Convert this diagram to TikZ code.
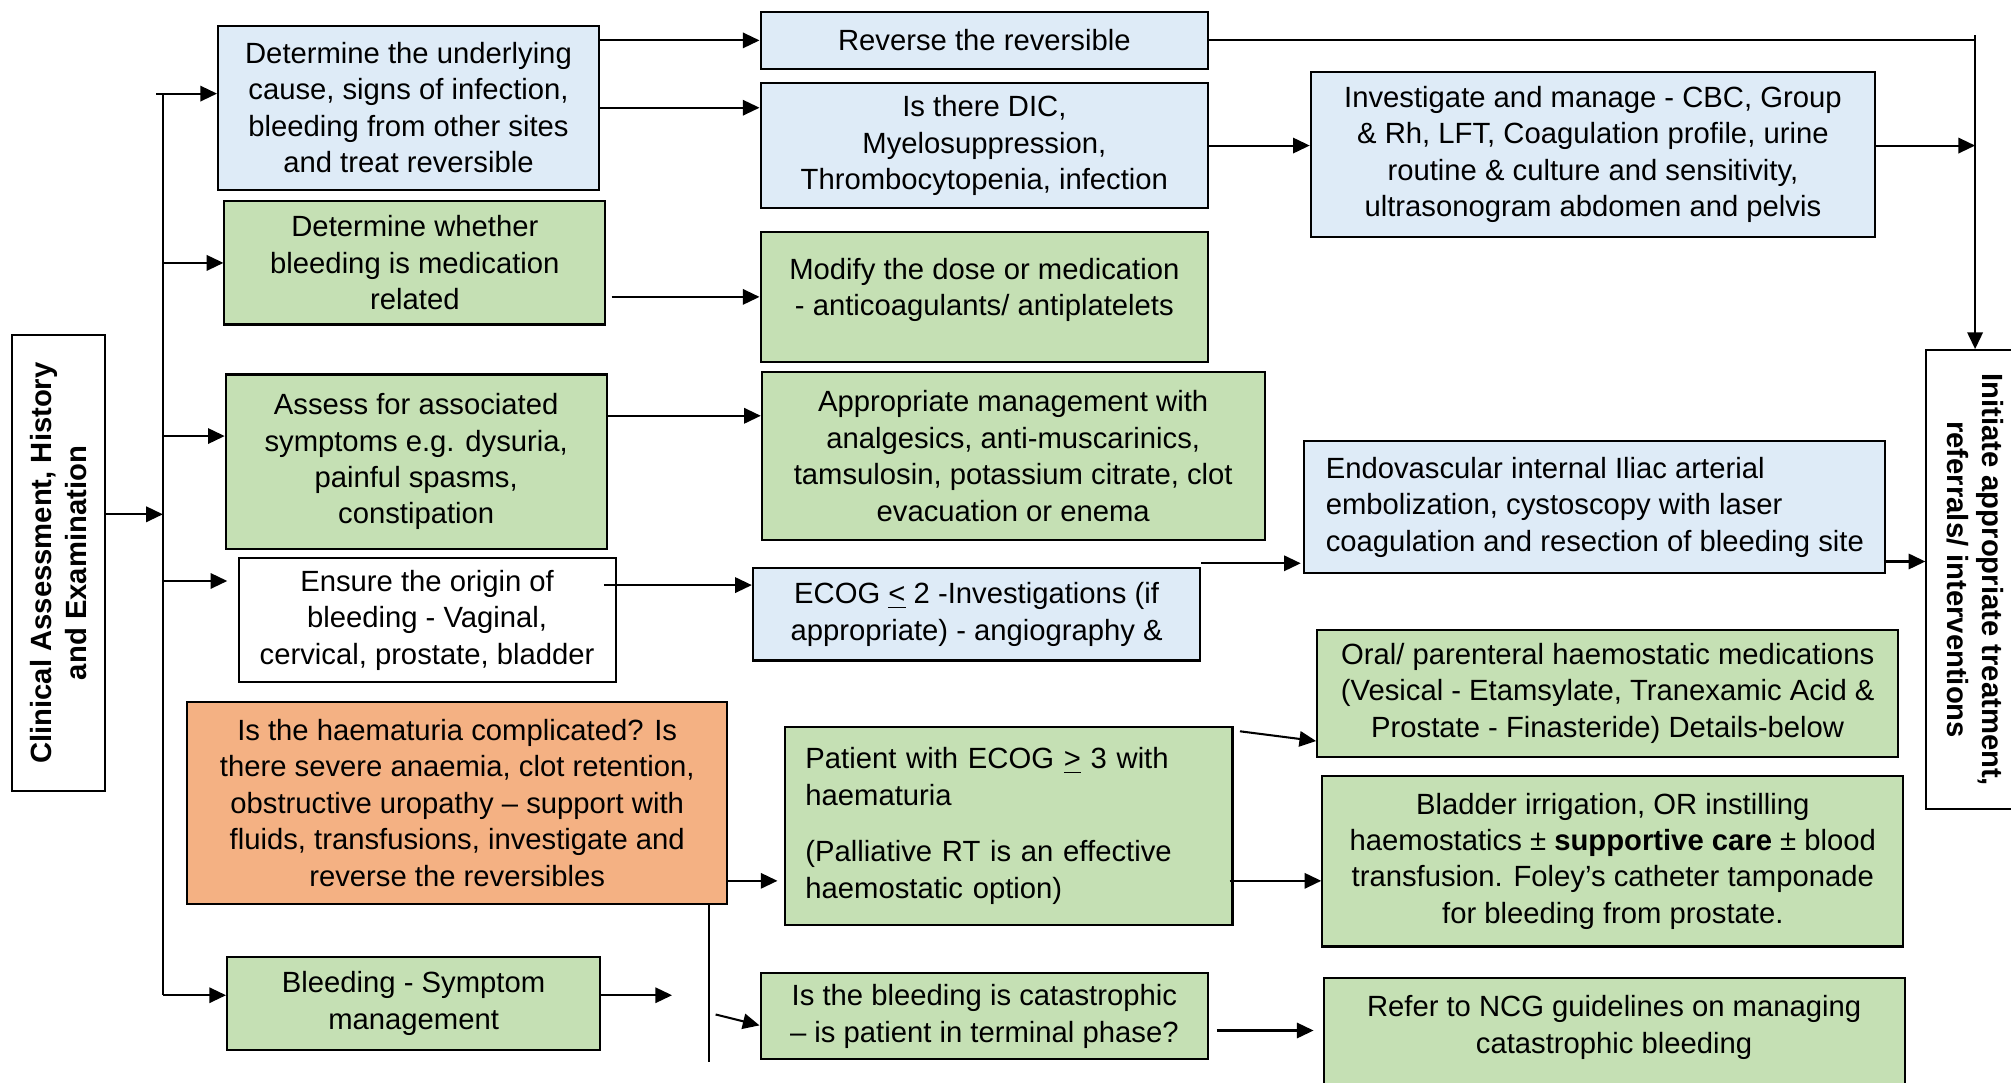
\documentclass[tikz,border=0pt]{standalone}
\usepackage{fontspec}
\setmainfont{Liberation Sans}
\usepackage{xcolor}
\definecolor{light-blue}{HTML}{DEEBF7}
\definecolor{pale-green}{HTML}{C5E0B4}
\definecolor{soft-orange}{HTML}{F4B183}
\usetikzlibrary{arrows.meta,calc}

\begin{document}
\begin{tikzpicture}[x=.5pt,y=-.5pt,>={Triangle[length=6.5pt,width=6pt]},line width=.8pt,
	box/.style={draw,align=center,inner sep=2pt,font=\fontsize{11.4}{14.2}\selectfont},
	headbox/.style={box,font=\fontsize{11.4}{13.6}\selectfont\bfseries},
	bluebox/.style={box,fill=light-blue},
	greenbox/.style={box,fill=pale-green}]
	\useasboundingbox (0,0) rectangle (1568,844);
	
	\foreach \x/\y/\z in 
	{122/73/ttop,127/340/j3,127/401/tr,127/453/j4,127/776/tbot,524/776/e6,553/828/v5,558/791/s7}{
		\coordinate (\z) at (\x,\y);
%		\fill[magenta] (\z) circle (2pt);
	}
	
	\node[headbox,rotate=90,minimum width=178pt,minimum height=36.5pt] (assess) at (45.5,439)
		{Clinical Assessment, History\\ and Examination};
	\node[headbox,rotate=-90,minimum width=179pt,minimum height=38pt] (initiate) at (1540,452)
		{Initiate appropriate treatment,\\ referrals/ interventions};
	
	% first column
	\node[bluebox,minimum width=148.5pt,minimum height=64pt] (cause) at (318.5,84)
		{Determine the underlying\\ cause, signs of infection,\\ bleeding from other sites\\ and treat reversible};
	\node[greenbox,minimum width=148.5pt,minimum height=48pt] (medrel) at (323.5,205)
		{Determine whether\\ bleeding is medication\\ related};
	\node[greenbox,minimum width=148.5pt,minimum height=68pt] (assoc) at (324.5,360)
		{Assess for associated\\ symptoms e.g. dysuria,\\ painful spasms,\\ constipation};
	\node[box,fill=white,minimum width=147pt,minimum height=48.5pt] (origin) at (333,483.5)
		{Ensure the origin of\\ bleeding - Vaginal,\\ cervical, prostate, bladder};
	\node[box,fill=soft-orange,minimum width=210.5pt,minimum height=79pt] (complic) at (356.5,626)
		{Is the haematuria complicated? Is\\ there severe anaemia, clot retention,\\ obstructive uropathy – support with\\ fluids, transfusions, investigate and\\ reverse the reversibles};
	\node[greenbox,minimum width=145.5pt,minimum height=36.5pt] (bleedsym) at (322.5,782.5)
		{Bleeding - Symptom\\ management};
	
	% second column
	\node[bluebox,minimum width=174.5pt,minimum height=22.5pt] (reverse) at (767.5,31.5)
		{Reverse the reversible};
	\node[bluebox,minimum width=174.5pt,minimum height=48.5pt] (dic) at (767.5,113.5)
		{Is there DIC,\\ Myelosuppression,\\ Thrombocytopenia, infection};
	\node[greenbox,minimum width=174.5pt,minimum height=50.5pt] (modify) at (767.5,231.5)
		{Modify the dose or medication\\ - anticoagulants/ antiplatelets\\[-6.2pt]~};
	\node[greenbox,minimum width=196pt,minimum height=65.5pt] (manage) at (790,355.5)
		{Appropriate management with\\ analgesics, anti-muscarinics,\\ tamsulosin, potassium citrate, clot\\ evacuation or enema};
	\node[bluebox,minimum width=174.5pt,minimum height=36pt] (ecoglow) at (761.5,479)
		{ECOG \underline{<} 2 -Investigations (if\\ appropriate) - angiography \&};
	\node[greenbox,align=left,text width=158.5pt,inner xsep=8pt,minimum width=174.5pt,minimum height=77pt] (ecoghigh) at (786.5,644)
		{Patient with ECOG \underline{>} 3 with\\ haematuria\\[8pt] (Palliative RT is an effective\\ haemostatic option)};
	\node[greenbox,minimum width=174.5pt,minimum height=33.5pt] (catastr) at (767.5,792.5)
		{Is the bleeding is catastrophic\\ – is patient in terminal phase?};
	
	% third column
	\node[bluebox,minimum width=220pt,minimum height=64.5pt] (invest) at (1242,120.5)
		{Investigate and manage - CBC, Group\\ \& Rh, LFT, Coagulation profile, urine\\ routine \& culture and sensitivity,\\ ultrasonogram abdomen and pelvis};
	\node[bluebox,align=left,minimum width=226.5pt,minimum height=51.5pt] (endo) at (1243.5,395.5)
		{Endovascular internal Iliac arterial\\ embolization, cystoscopy with laser\\ coagulation and resection of bleeding site};
	\node[greenbox,minimum width=226.5pt,minimum height=49.5pt] (oral) at (1253.5,540.5)
		{Oral/ parenteral haemostatic medications\\ (Vesical - Etamsylate, Tranexamic Acid \&\\ Prostate - Finasteride) Details-below};
	\node[greenbox,minimum width=226.5pt,minimum height=66.5pt] (bladder) at (1257.5,671.5)
		{Bladder irrigation, OR instilling\\ haemostatics ± \textbf{supportive care} ± blood\\ transfusion. Foley’s catheter tamponade\\ for bleeding from prostate.};
	\node[greenbox,anchor=north,minimum width=226.5pt,minimum height=54pt] (ncg) at (1258.5,762)
		{Refer to NCG guidelines on managing\\ catastrophic bleeding\\[4pt]~};
	
	% trunk
	\draw (ttop -| tbot) -- (tbot);
	\draw[->] (assess.south |- tr) -- (tr);
	\draw[->] (ttop) -- (ttop -| cause.west);
	\draw[->] (medrel.west -| tr) -- (medrel.west);
	\draw[->] (j3) -- (j3 -| assoc.west);
	\draw[->] (j4) -- ([xshift=-4pt]j4 -| origin.west);
	\draw[->] (tbot) -- (tbot -| bleedsym.west);
	
	\draw[->] (cause.east |- reverse.west) -- (reverse.west);
	\draw[->] (cause.east) -- (cause.east -| dic.west);
	\draw[->] ([xshift=2pt]medrel.east |- modify.west) -- (modify.west);
	\coordinate (a3) at ([yshift=-16.5pt]assoc.north east);
	\draw[->] (a3) -- (a3 -| manage.west);
	\coordinate (a4) at ([xshift=-5pt,yshift=-11pt]origin.north east);
	\draw[->] (a4) -- (a4 -| ecoglow.west);
	\coordinate (a5) at ([yshift=9.5pt]complic.south east);
	\draw[->] (a5) -- ([xshift=-2.5pt]a5 -| ecoghigh.west);
	\draw (v5 |- complic.south) -- (v5);
	\draw[->] (s7) -- ([yshift=-3.5pt]catastr.west);
	\draw[->] (bleedsym.east |- e6) -- (e6);
	
	\draw (reverse.east) -- (reverse.east -| initiate.west);
	\draw[->] ([yshift=2pt]reverse.east -| initiate.west) -- (initiate.west);
	\draw[->] (dic.east) -- (dic.east -| invest.west);
	\draw[->] (dic.east -| invest.east) -- (dic.east -| initiate.west);
	\coordinate (a6) at ([yshift=1.5pt]ecoglow.north east);
	\draw[->] (a6) -- ([xshift=-1pt]a6 -| endo.west);
	\coordinate (a7) at ([xshift=-1pt,yshift=5pt]endo.south east);
	\draw[->] (a7) -- (a7 -| initiate.south);
	\draw[->] ([xshift=2.5pt,yshift=-2pt]ecoghigh.north east) -- ([yshift=6.5pt]oral.south west);
	\draw[->] ([xshift=-1.5pt]ecoghigh.east |- a5) -- (a5 -| bladder.west);
	\coordinate (a9) at ([xshift=3pt,yshift=-5.5pt]catastr.east);
	\draw[->] (a9) -- ([xshift=-3.5pt]a9 -| ncg.west);
\end{tikzpicture}
\end{document}
